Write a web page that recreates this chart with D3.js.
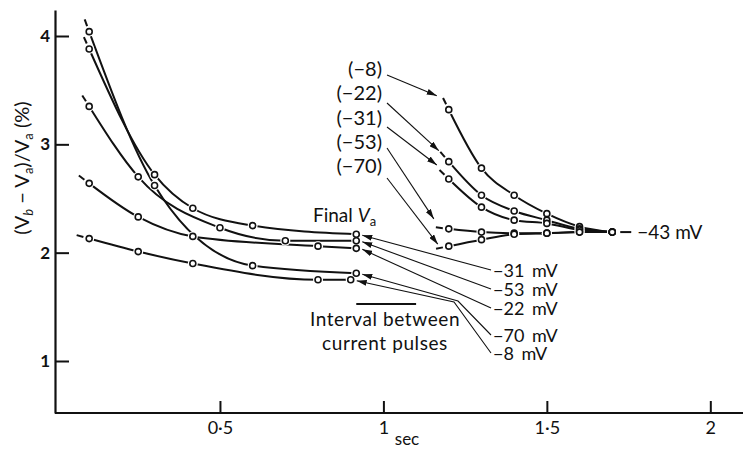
<!DOCTYPE html>
<html>
<head>
<meta charset="utf-8">
<script src="https://cdn.jsdelivr.net/npm/d3@7"></script>
<style>
  body { margin: 0; background: #fff; }
  svg { display: block; }
  text { font-family: Lato, "Open Sans", sans-serif; fill: #111; }
</style>
</head>
<body>
<script>
// Decay of (Vb - Va)/Va with time: curves after the pulse series (left)
// and recovery when the holding potential is changed (right).

// Left family: final Va of each series
const finalVaLabels = ["\u221231 mV", "\u221253 mV", "\u221222 mV", "\u221270 mV", "\u22128 mV"];
const leftTimes = [
  [0.1, 0.3, 0.417, 0.6, 0.917],
  [0.1, 0.25, 0.5, 0.7, 0.917],
  [0.1, 0.25, 0.417, 0.8, 0.917],
  [0.1, 0.3, 0.6, 0.917],
  [0.1, 0.25, 0.417, 0.8, 0.9]
];
const leftValues = [
  [3.88, 2.72, 2.41, 2.25, 2.17],
  [3.35, 2.70, 2.23, 2.11, 2.11],
  [2.64, 2.33, 2.15, 2.06, 2.04],
  [4.04, 2.62, 1.88, 1.81],
  [2.13, 2.01, 1.90, 1.75, 1.75]
];

// Right family: previous potential of each series, all ending at -43 mV
const startLabels = ["(\u22128)", "(\u221222)", "(\u221231)", "(\u221253)", "(\u221270)"];
const rightTimes = [1.2, 1.3, 1.4, 1.5, 1.6, 1.7];
const rightValues = [
  [3.32, 2.78, 2.53, 2.36, 2.24, 2.19],
  [2.84, 2.53, 2.385, 2.30, 2.22, 2.19],
  [2.68, 2.42, 2.30, 2.27, 2.21, 2.19],
  [2.22, 2.19, 2.18, 2.18, 2.19, 2.19],
  [2.06, 2.12, 2.17, 2.18, 2.19, 2.19]
];
const commonLabel = "\u221243 mV";

// Axis ticks
const xTicks = [0.5, 1, 1.5, 2];
const yTicks = [1, 2, 3, 4];
// Interval between current pulses (s)
const pulseInterval = [0.917, 1.1];

const W = 743, H = 450;
const svg = d3.select("body").append("svg").attr("width", W).attr("height", H);

const x = d3.scaleLinear().domain([0, 2.1]).range([56.5, 743]);
const y = d3.scaleLinear().domain([0.52, 4.24]).range([413, 10]);

const fmt = d => String(d).replace(".", "\u00b7");

// Axes
const gx = svg.append("g").attr("transform", "translate(0,413)")
  .call(d3.axisBottom(x).tickValues(xTicks).tickFormat(fmt).tickSize(-12).tickSizeOuter(0).tickPadding(8));
const gy = svg.append("g").attr("transform", "translate(55,0)")
  .call(d3.axisLeft(y).tickValues(yTicks).tickFormat(fmt).tickSize(-14).tickSizeOuter(0).tickPadding(5));
gx.select(".domain").attr("d", `M55,0H${W}`);
[gx, gy].forEach(g => {
  g.select(".domain").attr("stroke", "#111").attr("stroke-width", 2.2);
  g.selectAll(".tick line").attr("stroke", "#111").attr("stroke-width", 2);
  g.selectAll(".tick text").attr("font-size", 18).attr("fill", "#111")
    .style("font-family", "Lato, sans-serif");
});
gy.selectAll(".tick text").attr("font-weight", 700).attr("font-size", 17);

svg.append("text").attr("x", 407).attr("y", 445).attr("text-anchor", "middle")
  .attr("font-size", 17).text("sec");

// Y axis title
const yt = svg.append("text").attr("transform", "translate(29,168) rotate(-90)")
  .attr("text-anchor", "middle").attr("font-size", 20);
yt.append("tspan").text("(V");
yt.append("tspan").attr("dy", 4).attr("font-size", 13).attr("font-style", "italic").text("b");
yt.append("tspan").attr("dy", -4).text(" \u2212 V");
yt.append("tspan").attr("dy", 4).attr("font-size", 13).text("a");
yt.append("tspan").attr("dy", -4).text(")/V");
yt.append("tspan").attr("dy", 4).attr("font-size", 13).text("a");
yt.append("tspan").attr("dy", -4).text(" (%)");

// Curves
const line = d3.line().x(d => x(d[0])).y(d => y(d[1])).curve(d3.curveMonotoneX);
const series = [];
leftTimes.forEach((ts, i) => series.push(ts.map((t, j) => [t, leftValues[i][j]])));
rightValues.forEach(vs => series.push(rightTimes.map((t, j) => [t, vs[j]])));

const gCurves = svg.append("g");
series.forEach(pts => {
  const p = gCurves.append("path").attr("d", line(pts))
    .attr("fill", "none").attr("stroke", "#111").attr("stroke-width", 2);
  // short lead-in dash before the first point, along the curve's tangent
  const node = p.node();
  const a = node.getPointAtLength(0), b = node.getPointAtLength(3);
  const dx = a.x - b.x, dy = a.y - b.y, n = Math.hypot(dx, dy) || 1;
  gCurves.append("line")
    .attr("x1", a.x + dx / n * 6).attr("y1", a.y + dy / n * 6)
    .attr("x2", a.x + dx / n * 13).attr("y2", a.y + dy / n * 13)
    .attr("stroke", "#111").attr("stroke-width", 2);
});

// Points: white halo breaks the lines around each open circle
const allPts = series.flat();
const gPts = svg.append("g");
gPts.selectAll("circle.halo").data(allPts).join("circle").attr("class", "halo")
  .attr("cx", d => x(d[0])).attr("cy", d => y(d[1])).attr("r", 5).attr("fill", "#fff");
gPts.selectAll("circle.pt").data(allPts).join("circle").attr("class", "pt")
  .attr("cx", d => x(d[0])).attr("cy", d => y(d[1])).attr("r", 3)
  .attr("fill", "#fff").attr("stroke", "#111").attr("stroke-width", 1.6);

// Tail and label of the common end point
const last = [rightTimes[rightTimes.length - 1], rightValues[3][rightValues[3].length - 1]];
svg.append("line").attr("x1", x(last[0]) + 8).attr("x2", x(last[0]) + 19)
  .attr("y1", y(last[1])).attr("y2", y(last[1])).attr("stroke", "#111").attr("stroke-width", 2);
svg.append("text").attr("x", x(last[0]) + 25).attr("y", y(last[1]) + 6.5)
  .attr("font-size", 19).text(commonLabel);

// Arrow marker
svg.append("defs").append("marker").attr("id", "arr")
  .attr("viewBox", "0 0 10 6").attr("refX", 10).attr("refY", 3)
  .attr("markerWidth", 10).attr("markerHeight", 6).attr("markerUnits", "userSpaceOnUse")
  .attr("orient", "auto")
  .append("path").attr("d", "M0,0L10,3L0,6Z").attr("fill", "#111");

// Right family labels with arrows to the start of each curve
const startLabelY = [69, 93, 118, 142, 166];
const startArrowFrom = [75, 103, 127, 148, 178];
const startArrowOffset = [[-12, -14], [-10, -11], [-12, -14], [-15, -10], [-11, -2]];
startLabels.forEach((lab, i) => {
  svg.append("text").attr("x", 382).attr("y", startLabelY[i] + 7)
    .attr("text-anchor", "end").attr("font-size", 20).text(lab);
  const sx = x(rightTimes[0]) + startArrowOffset[i][0];
  const sy = y(rightValues[i][0]) + startArrowOffset[i][1];
  svg.append("line").attr("x1", 387).attr("y1", startArrowFrom[i])
    .attr("x2", sx).attr("y2", sy)
    .attr("stroke", "#111").attr("stroke-width", 1.1).attr("marker-end", "url(#arr)");
});

// Left family labels with arrows to the final points
svg.append("text").attr("x", 313).attr("y", 222).attr("font-size", 19)
  .call(t => {
    t.append("tspan").text("Final ");
    t.append("tspan").attr("font-style", "italic").text("V");
    t.append("tspan").attr("dy", 4).attr("font-size", 13).text("a");
  });
const finalLabelY = [270, 289, 308, 335, 353];
const finalKinks = [null, null, null, [458, 301], [454, 302]];
finalVaLabels.forEach((lab, i) => {
  svg.append("text").attr("x", 493).attr("y", finalLabelY[i] + 6.5)
    .attr("font-size", 18).style("word-spacing", "3px").text(lab);
  const pts = series[i];
  const end = pts[pts.length - 1];
  const tx = x(end[0]) + 6, ty = y(end[1]) + 1;
  const coords = [[491, finalLabelY[i]]];
  if (finalKinks[i]) coords.push(finalKinks[i]);
  coords.push([tx, ty]);
  svg.append("path").attr("d", d3.line()(coords)).attr("fill", "none")
    .attr("stroke", "#111").attr("stroke-width", 1.1).attr("marker-end", "url(#arr)");
});

// Interval bar
svg.append("line").attr("x1", x(pulseInterval[0])).attr("x2", x(pulseInterval[1]))
  .attr("y1", 304).attr("y2", 304).attr("stroke", "#111").attr("stroke-width", 2);
svg.append("text").attr("x", 385).attr("y", 326).attr("text-anchor", "middle")
  .attr("font-size", 19).style("letter-spacing", "0.6px").text("Interval between");
svg.append("text").attr("x", 385).attr("y", 350).attr("text-anchor", "middle")
  .attr("font-size", 19).style("letter-spacing", "0.6px").text("current pulses");
</script>
</body>
</html>
